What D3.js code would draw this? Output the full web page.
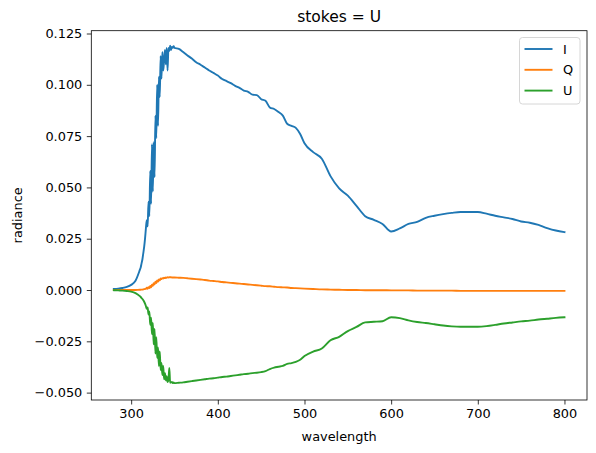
<!DOCTYPE html>
<html>
<head>
<meta charset="utf-8">
<script src="https://cdn.jsdelivr.net/npm/d3@7"></script>
<style>
  body { margin: 0; background: #fff; }
  svg { display: block; font-family: "DejaVu Sans", sans-serif; }
</style>
</head>
<body>
<div id="chart"></div>
<script>
// wavelength grid (nm), finer where the signal is noisy
const wavelength = [
  280, 285, 290, 295, 300, 305, 310,
  311, 312, 313, 314, 315, 316, 317, 318, 319, 320,
  321, 322, 323, 324, 325, 326, 327, 328, 329, 330,
  331, 332, 333, 334, 335, 336, 337, 338, 339, 340,
  341, 342, 343, 344, 345, 346, 347, 348, 349, 350,
  355, 360, 365, 370, 375, 380, 385, 390, 395, 400,
  405, 410, 415, 420, 425, 430, 435, 440, 445, 450,
  455, 460, 465, 470, 475, 480, 485, 490, 495, 500,
  510, 520, 530, 540, 550, 560, 570, 580, 590, 600,
  610, 620, 630, 640, 650, 660, 670, 680, 690, 700,
  710, 720, 730, 740, 750, 760, 770, 780, 790, 800
];

const stokesI = [
  0.0005, 0.0007, 0.0010, 0.0015, 0.0025, 0.0045, 0.0098,
  0.0110, 0.0130, 0.0150, 0.0180, 0.0210, 0.0250, 0.0300, 0.0340, 0.0310, 0.0430,
  0.0360, 0.0580, 0.0420, 0.0710, 0.0480, 0.0720, 0.0550, 0.0850, 0.0740, 0.1000,
  0.0800, 0.1040, 0.0940, 0.1140, 0.1030, 0.1160, 0.1070, 0.1120, 0.1170, 0.1100,
  0.1180, 0.1070, 0.1180, 0.1165, 0.1190, 0.1170, 0.1185, 0.1180, 0.1188, 0.1180,
  0.1175, 0.1160, 0.1143, 0.1128, 0.1110, 0.1098, 0.1084, 0.1070, 0.1058, 0.1045,
  0.1028, 0.1018, 0.1008, 0.0995, 0.0985, 0.0972, 0.0966, 0.0952, 0.0950, 0.0930,
  0.0922, 0.0890, 0.0882, 0.0868, 0.0850, 0.0810, 0.0800, 0.0790, 0.0760, 0.0715,
  0.0672, 0.0640, 0.0555, 0.0495, 0.0460, 0.0410, 0.0360, 0.0342, 0.0322, 0.0285,
  0.0300, 0.0322, 0.0332, 0.0352, 0.0362, 0.0370, 0.0376, 0.0380, 0.0380, 0.0380,
  0.0372, 0.0362, 0.0354, 0.0346, 0.0334, 0.0328, 0.0317, 0.0302, 0.0290, 0.0282
];

const stokesQ = [
  0.0000, 0.0000, 0.0000, 0.0000, 0.0000, 0.0000, 0.0001,
  0.0001, 0.0002, 0.0002, 0.0003, 0.0004, 0.0005, 0.0006, 0.0011, 0.0006, 0.0014,
  0.0009, 0.0020, 0.0013, 0.0026, 0.0020, 0.0033, 0.0027, 0.0040, 0.0034, 0.0046,
  0.0041, 0.0052, 0.0047, 0.0056, 0.0053, 0.0058, 0.0056, 0.0060, 0.0058, 0.0061,
  0.0060, 0.0062, 0.0061, 0.0062, 0.0062, 0.0062, 0.0061, 0.0061, 0.0061, 0.0061,
  0.0060, 0.0059, 0.0057, 0.0055, 0.0053, 0.0051, 0.0049, 0.0046, 0.0044, 0.0042,
  0.0039, 0.0037, 0.0035, 0.0033, 0.0031, 0.0029, 0.0027, 0.0025, 0.0023, 0.0021,
  0.0019, 0.0018, 0.0016, 0.0014, 0.0013, 0.0012, 0.0010, 0.0009, 0.0008, 0.0007,
  0.0005, 0.0003, 0.0002, 0.0001, 0.0000, 0.0000, -0.0001, -0.0001, -0.0001, -0.0002,
  -0.0002, -0.0002, -0.0003, -0.0003, -0.0003, -0.0003, -0.0003, -0.0004, -0.0004, -0.0004,
  -0.0004, -0.0004, -0.0004, -0.0004, -0.0004, -0.0004, -0.0004, -0.0004, -0.0004, -0.0004
];

const stokesU = [
  -0.0001, -0.0002, -0.0003, -0.0005, -0.0008, -0.0015, -0.0030,
  -0.0034, -0.0039, -0.0044, -0.0050, -0.0057, -0.0066, -0.0078, -0.0092, -0.0085, -0.0120,
  -0.0105, -0.0170, -0.0135, -0.0215, -0.0160, -0.0265, -0.0190, -0.0310, -0.0230, -0.0330,
  -0.0280, -0.0370, -0.0300, -0.0390, -0.0355, -0.0415, -0.0370, -0.0435, -0.0405, -0.0440,
  -0.0420, -0.0448, -0.0440, -0.0380, -0.0452, -0.0450, -0.0448, -0.0454, -0.0451, -0.0454,
  -0.0452, -0.0450, -0.0447, -0.0444, -0.0441, -0.0438, -0.0435, -0.0432, -0.0430, -0.0427,
  -0.0424, -0.0422, -0.0419, -0.0416, -0.0413, -0.0410, -0.0408, -0.0405, -0.0403, -0.0400,
  -0.0395, -0.0385, -0.0378, -0.0374, -0.0370, -0.0360, -0.0356, -0.0350, -0.0340, -0.0322,
  -0.0300, -0.0285, -0.0245, -0.0228, -0.0200, -0.0180, -0.0158, -0.0155, -0.0152, -0.0133,
  -0.0137, -0.0148, -0.0156, -0.0161, -0.0167, -0.0173, -0.0177, -0.0179, -0.0179, -0.0179,
  -0.0176, -0.0170, -0.0163, -0.0158, -0.0153, -0.0149, -0.0144, -0.0140, -0.0136, -0.0133
];

const seriesNames = ['I', 'Q', 'U'];
const seriesColors = ['#1f77b4', '#ff7f0e', '#2ca02c'];
const xTicks = [300, 400, 500, 600, 700, 800];
const yTicks = [-0.050, -0.025, 0.000, 0.025, 0.050, 0.075, 0.100, 0.125];

const width = 596;
const height = 453;
const margin = { top: 30.7, right: 9, bottom: 53, left: 91.3 };
const fontSize = 12.9;

const svg = d3.select('#chart')
  .append('svg')
  .attr('width', width)
  .attr('height', height);

const x = d3.scaleLinear()
  .domain([254, 826])
  .range([margin.left, width - margin.right]);

const y = d3.scaleLinear()
  .domain([-0.0536, 0.12637])
  .range([height - margin.bottom, margin.top]);

const series = [stokesI, stokesQ, stokesU];

const line = d3.line()
  .x((d, i) => x(wavelength[i]))
  .y(d => y(d))
  .curve(d3.curveMonotoneX);

const plot = svg.append('g');

plot.selectAll('.series')
  .data(series)
  .enter().append('path')
  .attr('class', 'series')
  .attr('d', d => line(d))
  .attr('fill', 'none')
  .attr('stroke', (d, i) => seriesColors[i])
  .attr('stroke-width', 1.9)
  .attr('stroke-linejoin', 'round')
  .attr('stroke-linecap', 'square');

// axes
const xAxis = d3.axisBottom(x)
  .tickValues(xTicks)
  .tickSize(4.5)
  .tickPadding(4.5)
  .tickFormat(d3.format('d'));

const yAxis = d3.axisLeft(y)
  .tickValues(yTicks)
  .tickSize(4.5)
  .tickPadding(4.5)
  .tickFormat(d => d3.format('.3f')(d).replace('-', '\u2212'));

const gx = svg.append('g')
  .attr('transform', `translate(0, ${height - margin.bottom})`)
  .call(xAxis);

const gy = svg.append('g')
  .attr('transform', `translate(${margin.left}, 0)`)
  .call(yAxis);

[gx, gy].forEach(g => {
  g.select('.domain').remove();
  g.selectAll('line').attr('stroke', '#000').attr('stroke-width', 0.8);
  g.selectAll('text')
    .attr('fill', '#000')
    .style('font-size', `${fontSize}px`)
    .style('font-family', '"DejaVu Sans", sans-serif');
});

// frame
svg.append('rect')
  .attr('x', margin.left)
  .attr('y', margin.top)
  .attr('width', width - margin.right - margin.left)
  .attr('height', height - margin.bottom - margin.top)
  .attr('fill', 'none')
  .attr('stroke', '#000')
  .attr('stroke-width', 0.8);

// labels
const cx = (margin.left + width - margin.right) / 2;
const cy = (margin.top + height - margin.bottom) / 2;

svg.append('text')
  .attr('x', cx)
  .attr('y', 22)
  .attr('text-anchor', 'middle')
  .style('font-size', '15.5px')
  .text('stokes = U');

svg.append('text')
  .attr('x', cx)
  .attr('y', 441)
  .attr('text-anchor', 'middle')
  .style('font-size', `${fontSize}px`)
  .text('wavelength');

svg.append('text')
  .attr('transform', `translate(22, ${cy}) rotate(-90)`)
  .attr('text-anchor', 'middle')
  .style('font-size', `${fontSize}px`)
  .text('radiance');

// legend
const legend = svg.append('g')
  .attr('transform', 'translate(519.5, 37.5)');

legend.append('rect')
  .attr('width', 60.5)
  .attr('height', 66.5)
  .attr('rx', 3)
  .attr('fill', '#fff')
  .attr('fill-opacity', 0.8)
  .attr('stroke', '#cccccc')
  .attr('stroke-width', 0.8);

const item = legend.selectAll('.item')
  .data(seriesNames)
  .enter().append('g')
  .attr('class', 'item')
  .attr('transform', (d, i) => `translate(0, ${11.5 + i * 20.8})`);

item.append('line')
  .attr('x1', 5)
  .attr('x2', 33)
  .attr('stroke', (d, i) => seriesColors[i])
  .attr('stroke-width', 1.9);

item.append('text')
  .attr('x', 43.5)
  .attr('dy', '0.36em')
  .style('font-size', `${fontSize}px`)
  .text(d => d);
</script>
</body>
</html>
